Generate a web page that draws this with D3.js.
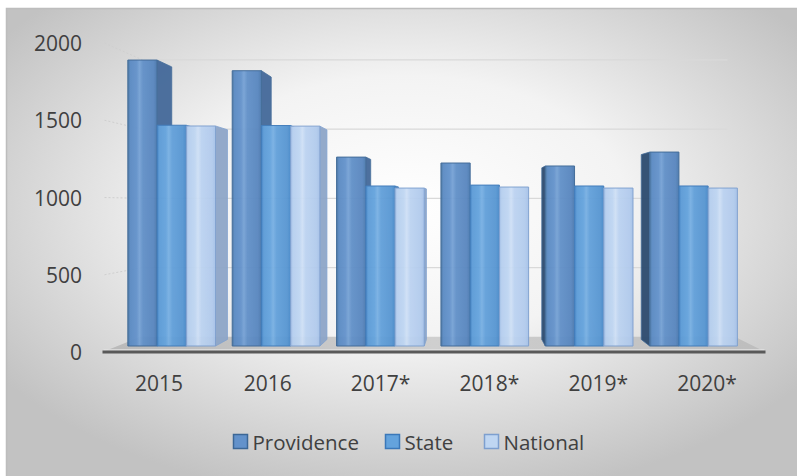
<!DOCTYPE html>
<html>
<head>
<meta charset="utf-8">
<script src="https://cdn.jsdelivr.net/npm/d3@7"></script>
<style>
  html, body { margin: 0; padding: 0; background: #ffffff; }
  svg { display: block; }
</style>
</head>
<body>
<svg id="chart" width="797" height="476"></svg>
<script>
// ---------------- data ----------------
const categories = ["2015", "2016", "2017*", "2018*", "2019*", "2020*"];
const seriesNames = ["Providence", "State", "National"];
const providence = [1930, 1858, 1275, 1235, 1215, 1309];
const state = [1490, 1488, 1080, 1086, 1080, 1080];
const national = [1485, 1484, 1066, 1073, 1066, 1066];
const yTicks = [0, 500, 1000, 1500, 2000];

// ---------------- setup ----------------
const svg = d3.select("#chart");
const W = 797, H = 476;
const font = "'Open Sans', 'Liberation Sans', Arial, sans-serif";
const textColor = "#404040";

// perspective (vanishing point) and depths
const VX = 470, VY = 206;
const tBarFront = 0.041, tBarBack = 0.086, tWall = 0.104;
function proj(X, Y, t) { return [X + (VX - X) * t, Y + (VY - Y) * t]; }

const x = d3.scaleBand().domain(categories).range([104.5, 757.5]).paddingInner(0).paddingOuter(0);
const y = d3.scaleLinear().domain([0, 2000]).range([352, 43]);
const groupFrac = 0.84;
const sub = d3.scaleBand().domain(seriesNames).range([0, x.bandwidth() * groupFrac]).padding(0);

const defs = svg.append("defs");
// background gradient
const bg = defs.append("radialGradient").attr("id", "bgGrad")
  .attr("cx", "50%").attr("cy", "42%").attr("r", "62%");
bg.append("stop").attr("offset", "0%").attr("stop-color", "#ffffff");
bg.append("stop").attr("offset", "45%").attr("stop-color", "#f3f3f3");
bg.append("stop").attr("offset", "100%").attr("stop-color", "#c2c2c2");

const seriesStyle = {
  Providence: { stops: ["#46739f", "#5a8ac3", "#6392cb", "#76a2d5", "#6190c8", "#5886bf", "#4a78ad"], stroke: "#3c6796", right: "#44699a", left: "#2d4b6f" },
  State:      { stops: ["#3f7fc2", "#5b9bd7", "#64a3dd", "#78b0e3", "#62a0da", "#5796d2", "#4688c8"], stroke: "#3b78b9", right: "#3d74ad", left: "#2f5f92" },
  National:   { stops: ["#9fbde6", "#b6cfef", "#bfd6f2", "#cfe0f6", "#bcd3f1", "#b2cbed", "#a5c1e8"], stroke: "#7d9fcf", right: "#8ea6c8", left: "#7790b5" }
};
const stopOffsets = [0, 0.08, 0.3, 0.4, 0.52, 0.88, 1];
seriesNames.forEach(s => {
  const g = defs.append("linearGradient").attr("id", "grad-" + s).attr("x1", 0).attr("x2", 1).attr("y1", 0).attr("y2", 0);
  seriesStyle[s].stops.forEach((c, i) => g.append("stop").attr("offset", stopOffsets[i]).attr("stop-color", c));
});
const floorGrad = defs.append("linearGradient").attr("id", "floorGrad").attr("x1", 0).attr("x2", 1).attr("y1", 0).attr("y2", 0);
floorGrad.append("stop").attr("offset", 0).attr("stop-color", "#b9b9b9");
floorGrad.append("stop").attr("offset", 0.5).attr("stop-color", "#cfcfcf");
floorGrad.append("stop").attr("offset", 1).attr("stop-color", "#bdbdbd");

// background frame
svg.append("rect").attr("x", 6.5).attr("y", 8.5).attr("width", W).attr("height", H)
  .attr("fill", "url(#bgGrad)").attr("stroke", "#bdbdbd").attr("stroke-width", 1.5);

const line = d3.line();
const Xl = x.range()[0], Xr = x.range()[1];

// back wall gridlines
svg.append("g").selectAll("path").data(yTicks.filter(v => v > 0)).join("path")
  .attr("d", v => line([proj(Xl, y(v), tWall), proj(Xr, y(v), tWall)]))
  .attr("stroke", "#d9d9d9").attr("stroke-width", 1.2).attr("fill", "none");
// side wall gridlines (dotted, faint)
svg.append("g").selectAll("path").data(yTicks.filter(v => v > 0)).join("path")
  .attr("d", v => line([proj(Xl, y(v), 0), proj(Xl, y(v), tWall)]))
  .attr("stroke", "#cfcfcf").attr("stroke-width", 1).attr("stroke-dasharray", "2,2").attr("fill", "none");

// floor
const floorPts = [proj(Xl - 2, y(0), 0), proj(Xr + 8, y(0), 0), proj(Xr + 8, y(0), tWall), proj(Xl - 2, y(0), tWall)];
svg.append("path").attr("d", line(floorPts) + "Z").attr("fill", "url(#floorGrad)");
svg.append("path").attr("d", line([proj(Xl - 1, y(0) - 2, 0), proj(Xr + 7, y(0) - 2, 0)]))
  .attr("stroke", "#e2e2e2").attr("stroke-width", 1.5);
svg.append("path").attr("d", line([proj(Xl - 2, y(0), 0), proj(Xr + 8, y(0), 0)]))
  .attr("stroke", "#595959").attr("stroke-width", 3);

// bars
const bars = [];
categories.forEach((c, i) => {
  const gx = x(c) + x.bandwidth() * (1 - groupFrac) / 2;
  [providence, state, national].forEach((arr, j) => {
    const s = seriesNames[j];
    const X0 = gx + sub(s), X1 = X0 + sub.bandwidth();
    bars.push({ s, X0, X1, Yt: y(arr[i]), Yb: y(0) });
  });
});
const gBars = svg.append("g").attr("opacity", 0.95);
// side faces first
bars.forEach(b => {
  const st = seriesStyle[b.s];
  if (b.X1 < VX) {
    const pts = [proj(b.X1, b.Yt, tBarFront), proj(b.X1, b.Yt, tBarBack), proj(b.X1, b.Yb, tBarBack), proj(b.X1, b.Yb, tBarFront)];
    gBars.append("path").attr("d", line(pts) + "Z").attr("fill", st.right).attr("stroke", st.stroke).attr("stroke-width", 0.8);
  }
  if (b.X0 > VX) {
    const pts = [proj(b.X0, b.Yt, tBarFront), proj(b.X0, b.Yt, tBarBack), proj(b.X0, b.Yb, tBarBack), proj(b.X0, b.Yb, tBarFront)];
    gBars.append("path").attr("d", line(pts) + "Z").attr("fill", st.left).attr("stroke", st.stroke).attr("stroke-width", 0.8);
  }
});
// front faces
bars.forEach(b => {
  const st = seriesStyle[b.s];
  const pts = [proj(b.X0, b.Yt, tBarFront), proj(b.X1, b.Yt, tBarFront), proj(b.X1, b.Yb, tBarFront), proj(b.X0, b.Yb, tBarFront)];
  gBars.append("path").attr("d", line(pts) + "Z").attr("fill", "url(#grad-" + b.s + ")")
    .attr("stroke", st.stroke).attr("stroke-width", 1);
});

// y axis labels
svg.append("g").selectAll("text").data(yTicks).join("text")
  .attr("x", 82).attr("y", v => y(v)).attr("text-anchor", "end").attr("dominant-baseline", "central")
  .attr("font-family", font).attr("font-size", 21).attr("fill", textColor).text(v => v);

// x axis labels
svg.append("g").selectAll("text").data(categories).join("text")
  .attr("x", c => x(c) + x.bandwidth() / 2 + (c.endsWith("*") ? 4 : 0)).attr("y", 383)
  .attr("text-anchor", "middle").attr("dominant-baseline", "central")
  .attr("font-family", font).attr("font-size", 21).attr("fill", textColor).text(c => c);

// legend
const legendX = [233.5, 385.5, 484.5];
const lg = svg.append("g");
seriesNames.forEach((s, j) => {
  const st = seriesStyle[s];
  lg.append("rect").attr("x", legendX[j]).attr("y", 434.5).attr("width", 14).attr("height", 14)
    .attr("fill", st.stops[2]).attr("stroke", st.stroke).attr("stroke-width", 1.5);
  lg.append("text").attr("x", legendX[j] + 19).attr("y", 441.5).attr("dominant-baseline", "central")
    .attr("font-family", font).attr("font-size", 20.5).attr("fill", textColor).text(s);
});
</script>
</body>
</html>
